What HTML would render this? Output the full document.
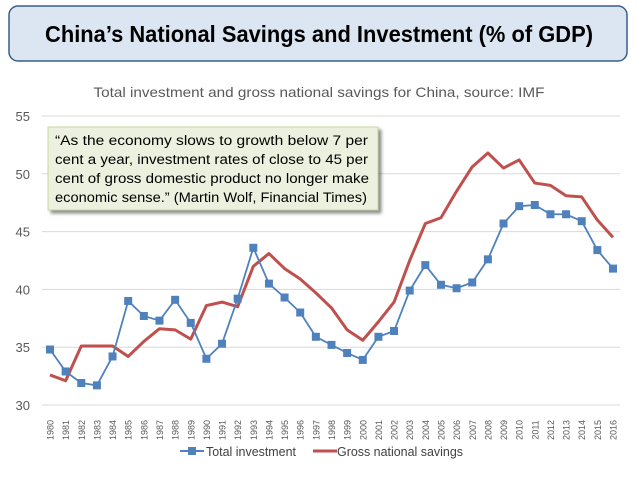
<!DOCTYPE html>
<html><head><meta charset="utf-8"><style>
html,body{margin:0;padding:0;background:#fff;width:638px;height:479px;overflow:hidden}
svg text{font-family:"Liberation Sans",sans-serif}
</style></head><body>
<svg width="638" height="479" viewBox="0 0 638 479">
<defs>
<filter id="sh" x="-5%" y="-5%" width="115%" height="130%"><feDropShadow dx="3" dy="3" stdDeviation="1.5" flood-color="#000" flood-opacity="0.45"/></filter>
</defs>
<rect x="9" y="6" width="618" height="55" rx="9" fill="#dce6f2" stroke="#385d8a" stroke-width="1.5"/>
<text x="319" y="42" text-anchor="middle" font-size="23" font-weight="bold" fill="#000" textLength="548" lengthAdjust="spacingAndGlyphs">China’s National Savings and Investment (% of GDP)</text>
<text x="319" y="97" text-anchor="middle" font-size="14" fill="#595959" textLength="451" lengthAdjust="spacingAndGlyphs">Total investment and gross national savings for China, source: IMF</text>
<g id="grid"></g>
<g id="yt"></g>
<g id="xt"></g>
<g id="series"></g>
<g>
<rect x="48" y="127" width="330" height="83" fill="#ebf1de" stroke="#c3d69b" stroke-width="1" filter="url(#sh)"/>
<text font-size="13.5" fill="#000">
<tspan x="55" y="145" textLength="313" lengthAdjust="spacingAndGlyphs">“As the economy slows to growth below 7 per</tspan>
<tspan x="55" y="164" textLength="313" lengthAdjust="spacingAndGlyphs">cent a year, investment rates of close to 45 per</tspan>
<tspan x="55" y="183" textLength="314" lengthAdjust="spacingAndGlyphs">cent of gross domestic product no longer make</tspan>
<tspan x="55" y="202" textLength="312" lengthAdjust="spacingAndGlyphs">economic sense.” (Martin Wolf, Financial Times)</tspan>
</text>
</g>
<g>
<g>
<line x1="180" y1="451" x2="204" y2="451" stroke="#4f81bd" stroke-width="2"/>
<rect x="188" y="447" width="8" height="8" fill="#4f81bd"/>
<text x="206" y="456" font-size="13" fill="#404040" textLength="90" lengthAdjust="spacingAndGlyphs">Total investment</text>
</g>
<g>
<line x1="313" y1="451" x2="337" y2="451" stroke="#c0504d" stroke-width="3"/>
<text x="337" y="456" font-size="13" fill="#404040" textLength="126" lengthAdjust="spacingAndGlyphs">Gross national savings</text>
</g>
</g>
</svg>
<script>
const years=[];for(let y=1980;y<=2016;y++)years.push(y);
const investment=[34.8,32.9,31.9,31.7,34.2,39.0,37.7,37.3,39.1,37.1,34.0,35.3,39.2,43.6,40.5,39.3,38.0,35.9,35.2,34.5,33.9,35.9,36.4,39.9,42.1,40.4,40.1,40.6,42.6,45.7,47.2,47.3,46.5,46.5,45.9,43.4,41.8];
const savings=[32.6,32.1,35.1,35.1,35.1,34.2,35.5,36.6,36.5,35.7,38.6,38.9,38.5,42.0,43.1,41.8,40.9,39.7,38.4,36.5,35.6,37.2,38.9,42.5,45.7,46.2,48.5,50.6,51.8,50.5,51.2,49.2,49.0,48.1,48.0,46.0,44.5];
const yTicks=[30,35,40,45,50,55];
const NS='http://www.w3.org/2000/svg';
const X0=50,X1=613,Y0=405,Y1=116;
const xs=i=>X0+(X1-X0)*i/(years.length-1);
const ys=v=>Y0-(v-30)/(55-30)*(Y0-Y1);
function mk(t,a,p){const e=document.createElementNS(NS,t);for(const k in a)e.setAttribute(k,a[k]);p.appendChild(e);return e;}
const grid=document.getElementById('grid'),yt=document.getElementById('yt'),xt=document.getElementById('xt'),ser=document.getElementById('series');
yTicks.forEach(v=>{
 const l=mk('line',{x1:42,x2:620,y1:ys(v),y2:ys(v),stroke:'#d9d9d9','stroke-width':1},grid);
 
 
 const t=mk('text',{x:30,y:ys(v)+5,'text-anchor':'end','font-size':13,fill:'#595959'},yt);
 t.textContent=v;
 
 
});
years.forEach((y,i)=>{
 const t=mk('text',{transform:`translate(${xs(i)+3.5},${430}) rotate(-90)`,'text-anchor':'middle','font-size':9,fill:'#595959'},xt);
 t.textContent=y;
 
 
});
const sp=mk('polyline',{points:savings.map((v,i)=>xs(i)+','+ys(v)).join(' '),fill:'none',stroke:'#c0504d','stroke-width':3,'stroke-linejoin':'round'},ser);


const ip=mk('polyline',{points:investment.map((v,i)=>xs(i)+','+ys(v)).join(' '),fill:'none',stroke:'#4f81bd','stroke-width':1.8},ser);


investment.forEach((v,i)=>{
 const r=mk('rect',{x:xs(i)-4,y:ys(v)-4,width:8,height:8,fill:'#4f81bd'},ser);
 
 
});
</script>
</body></html>
